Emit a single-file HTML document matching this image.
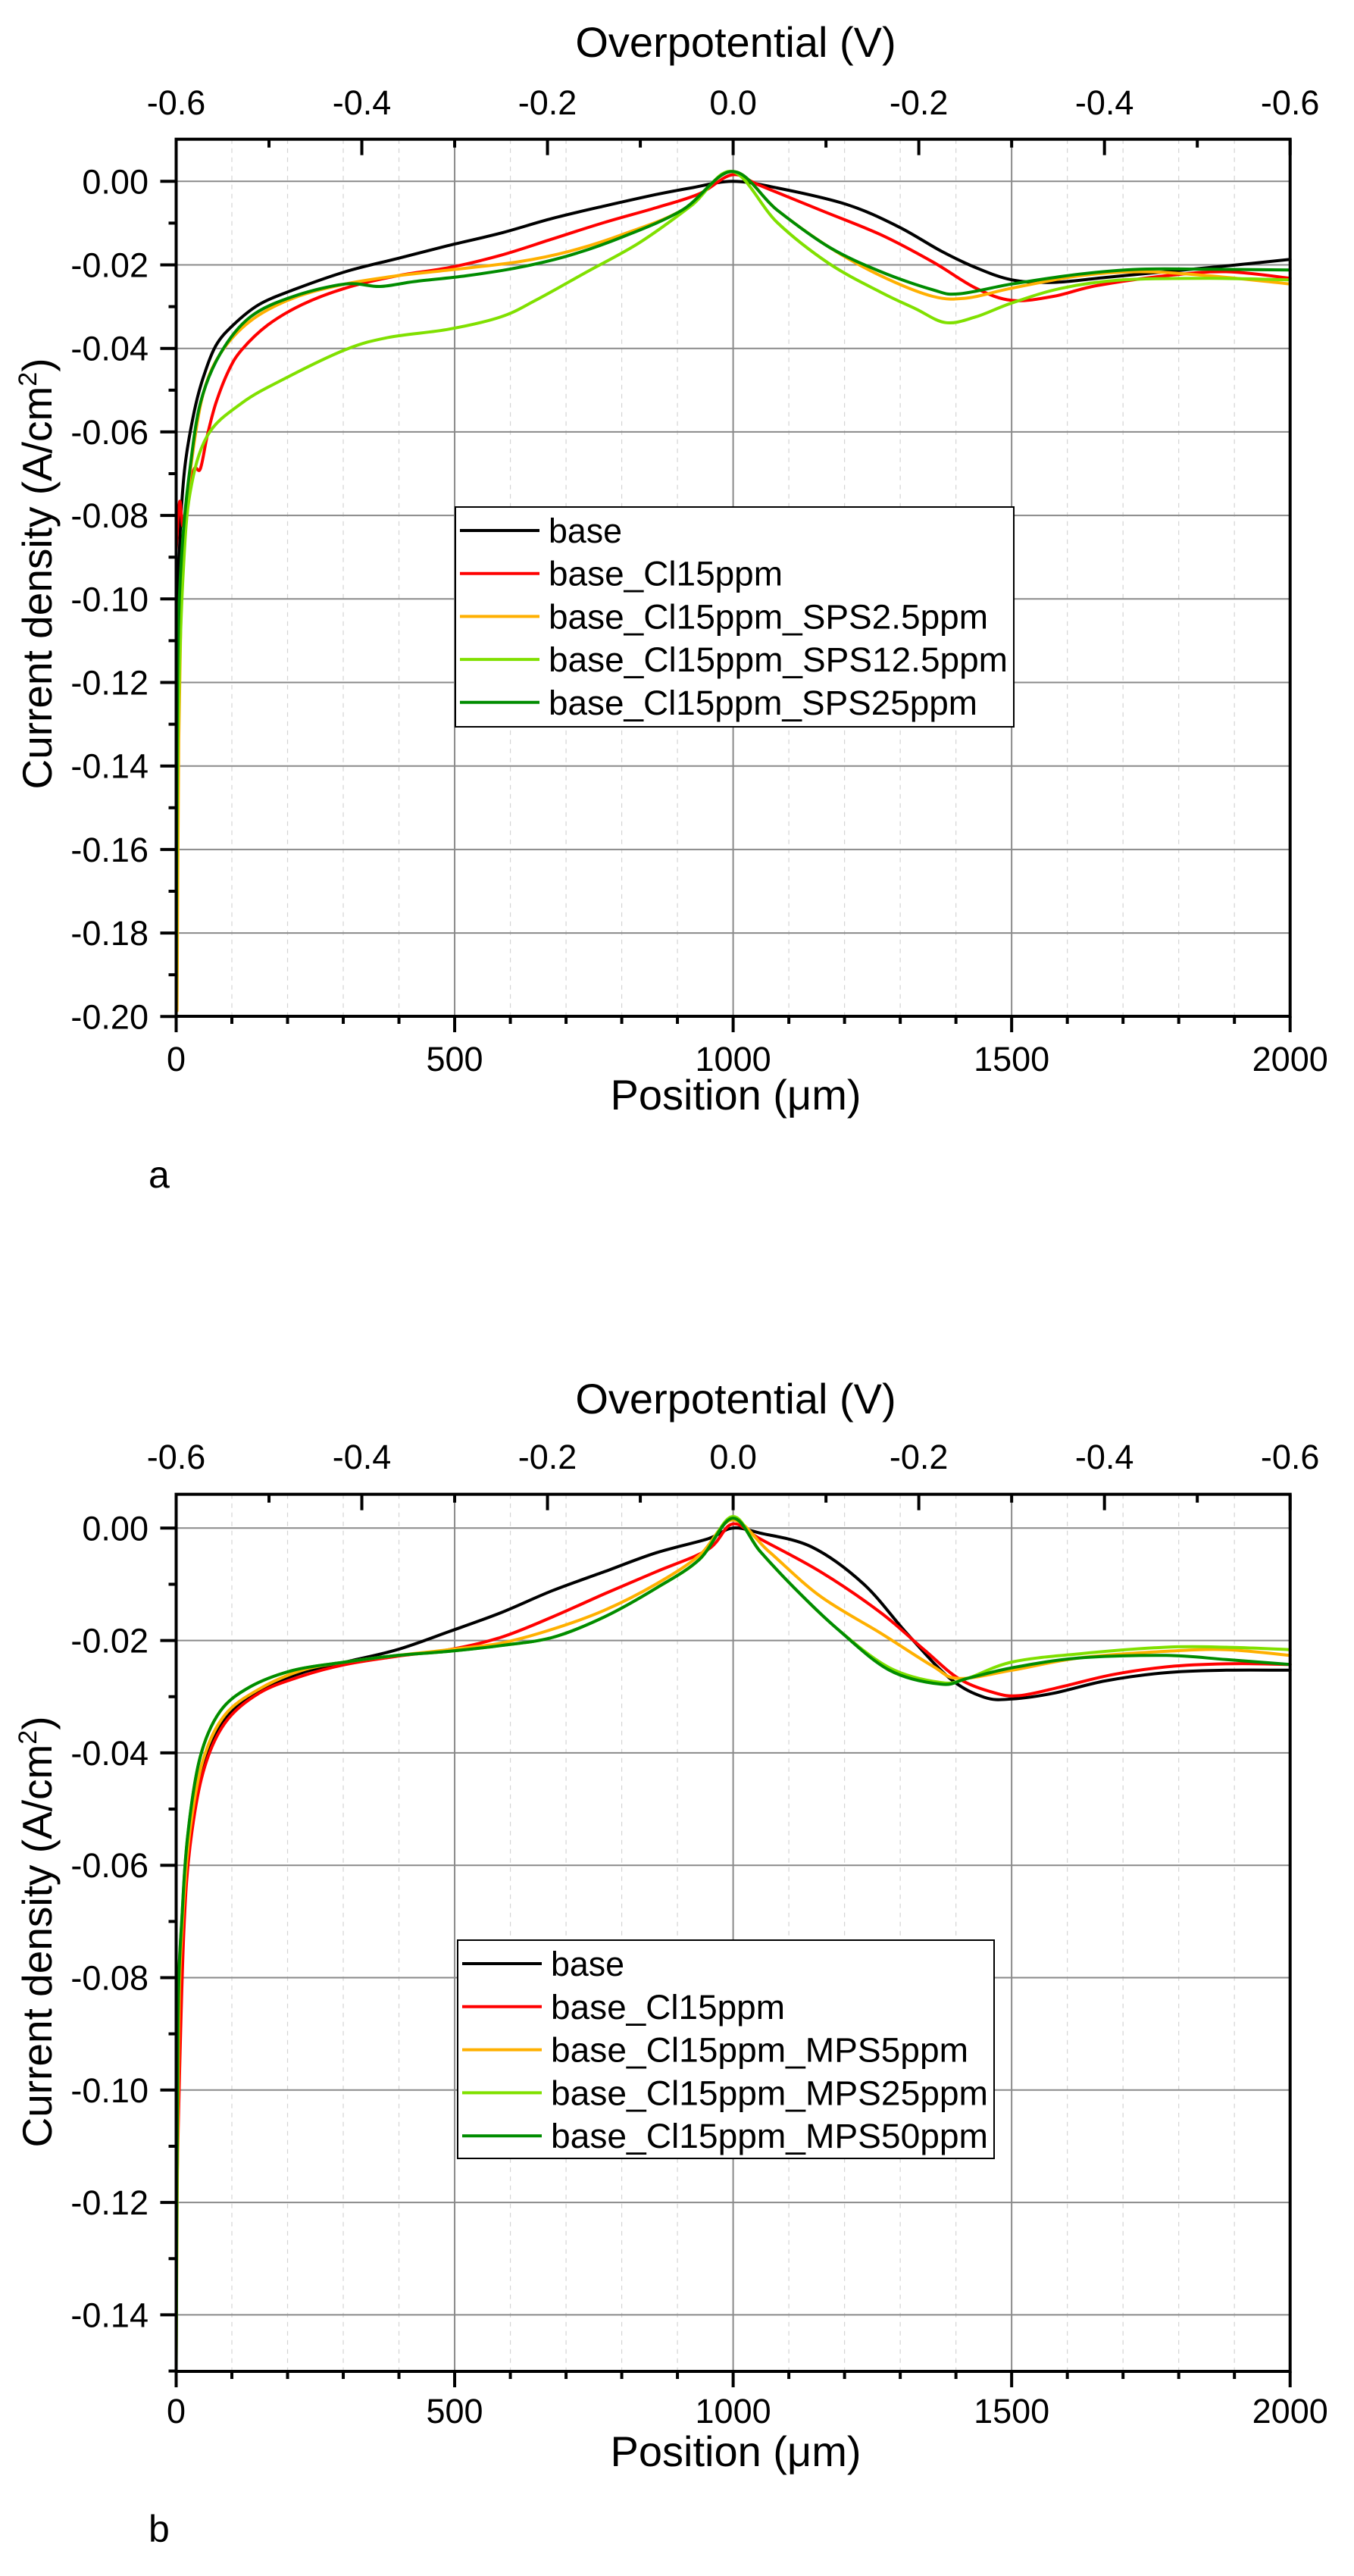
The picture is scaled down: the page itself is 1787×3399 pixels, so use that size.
<!DOCTYPE html>
<html><head><meta charset="utf-8"><style>
html,body{margin:0;padding:0;background:#fff;}
svg{display:block;font-family:"Liberation Sans",Arial,sans-serif;}
</style></head><body>
<svg id="s" width="1787" height="3399" viewBox="0 0 1787 3399" xmlns="http://www.w3.org/2000/svg">
<text x="971" y="75" font-size="56" text-anchor="middle">Overpotential (V)</text>
<text x="971" y="1865" font-size="56" text-anchor="middle">Overpotential (V)</text>
<text x="971" y="1464" font-size="56" text-anchor="middle">Position (μm)</text>
<text x="971" y="3254" font-size="56" text-anchor="middle">Position (μm)</text>
<text x="196" y="1567" font-size="50">a</text>
<text x="196" y="3354" font-size="50">b</text>
<text transform="translate(68,757) rotate(-90)" font-size="55" text-anchor="middle">Current density (A/cm<tspan font-size="34" dy="-20">2</tspan><tspan dy="20">)</tspan></text>
<text transform="translate(68,2549) rotate(-90)" font-size="55" text-anchor="middle">Current density (A/cm<tspan font-size="34" dy="-20">2</tspan><tspan dy="20">)</tspan></text>
</svg>
<script>
(function(){
var s=document.getElementById('s'),NS='http://www.w3.org/2000/svg';
function el(t,a,txt){var e=document.createElementNS(NS,t);for(var k in a)e.setAttribute(k,a[k]);if(txt!==undefined)e.textContent=txt;s.appendChild(e);return e;}
var L=232.5,R=1702.7;
function X(p){return L+p*(R-L)/2000;}
function panel(P){
 var T=P.top,B=P.bot,y0=P.y0,k=P.k; function Y(v){return y0-v*k;}
 for(var p=100;p<2000;p+=100){if(p%500==0)continue;el('line',{x1:X(p),x2:X(p),y1:T,y2:B,stroke:'#d4d4d4','stroke-width':1.2,'stroke-dasharray':'6,6'});}
 for(var p=500;p<2000;p+=500)el('line',{x1:X(p),x2:X(p),y1:T,y2:B,stroke:'#8a8a8a','stroke-width':2});
 for(var i=0;i<P.n;i++){var v=-0.02*i;var y=Y(v);if(y>B-2||y<T+2)continue;el('line',{x1:L,x2:R,y1:y,y2:y,stroke:'#8a8a8a','stroke-width':2});}
 P.series.forEach(function(sr){
  var pts=sr.pts.map(function(q){var px=(q[0]-204)/1290*2000;var v=(q[1]-P.dy0)/(P.dyb-P.dy0)*P.vb;var y=Y(v);if(y>B)y=B;return [X(px),y];});
  var d='M'+pts[0][0].toFixed(1)+' '+pts[0][1].toFixed(1);
  for(var i=0;i<pts.length-1;i++){var p0=pts[i-1]||pts[i],p1=pts[i],p2=pts[i+1],p3=pts[i+2]||p2;
   var c1x=p1[0]+(p2[0]-p0[0])/6,c1y=p1[1]+(p2[1]-p0[1])/6,c2x=p2[0]-(p3[0]-p1[0])/6,c2y=p2[1]-(p3[1]-p1[1])/6;
   if(i==0||sr.sharp&&sr.sharp.indexOf(i)>=0){}
   d+='C'+c1x.toFixed(1)+' '+c1y.toFixed(1)+' '+c2x.toFixed(1)+' '+c2y.toFixed(1)+' '+p2[0].toFixed(1)+' '+p2[1].toFixed(1);}
  el('path',{d:d,fill:'none',stroke:sr.c,'stroke-width':4,'stroke-linejoin':'round','stroke-linecap':'round'});
 });
 el('rect',{x:L,y:T,width:R-L,height:B-T,fill:'none',stroke:'#000','stroke-width':4});
 for(var p=0;p<=2000;p+=100){var maj=p%500==0;el('line',{x1:X(p),x2:X(p),y1:B,y2:B+(maj?21:10),stroke:'#000','stroke-width':4});}
 [0,500,1000,1500,2000].forEach(function(p){el('text',{x:X(p),y:P.xl,'font-size':45,'text-anchor':'middle'},String(p));});
 for(var j=0;j<=12;j++){var p=j*2000/12;var maj=j%2==0;el('line',{x1:X(p),x2:X(p),y1:T,y2:T+(maj?21:11),stroke:'#000','stroke-width':4});}
 ['-0.6','-0.4','-0.2','0.0','-0.2','-0.4','-0.6'].forEach(function(t,j){el('text',{x:X(j*2000/6),y:P.tl,'font-size':45,'text-anchor':'middle'},t);});
 for(var i=0;i<=2*P.n;i++){var v=-0.01*i;var y=Y(v);if(y>B+1||y<T-1)continue;var maj=i%2==0;el('line',{x1:L-(maj?21:10),x2:L,y1:y,y2:y,stroke:'#000','stroke-width':4});
  if(maj)el('text',{x:196,y:y+16,'font-size':45,'text-anchor':'end'},(v===0?'0.00':v.toFixed(2)));}
 var g=P.leg;el('rect',{x:g.x,y:g.y,width:g.w,height:g.h,fill:'#fff',stroke:'#000','stroke-width':2});
 g.items.forEach(function(it,i){var y=g.r0+i*g.dr;el('line',{x1:g.x+6,x2:g.x+111,y1:y,y2:y,stroke:P.series[i].c,'stroke-width':4});
  el('text',{x:g.x+123,y:y+16,'font-size':45,textLength:it[1],lengthAdjust:'spacingAndGlyphs'},it[0]);});
}
var C=['#000000','#ff0000','#ffb000','#80e000','#008c00'];
panel({top:183.7,bot:1341,y0:239.3,k:5510,n:11,dy0:220,dyb:1237,vb:-0.2,xl:1413,tl:151,
 leg:{x:601,y:669,w:737,h:290,r0:700,dr:56.7,items:[['base',97],['base_Cl15ppm',309],['base_Cl15ppm_SPS2.5ppm',580],['base_Cl15ppm_SPS12.5ppm',606],['base_Cl15ppm_SPS25ppm',566]]},
 series:[
 {c:C[0],pts:[[204,1000],[205,850],[207,700],[210,620],[215,560],[225,500],[235,460],[250,420],[270,395],[300,370],[340,352],[400,330],[460,314],[520,298],[580,283],[640,265],[700,250],[760,236],[800,228],[848,220],[900,228],[980,248],[1040,275],[1090,305],[1130,325],[1172,340],[1220,343],[1280,337],[1350,330],[1420,323],[1494,315]]},
 {c:C[1],pts:[[204,670],[208,610],[212,640],[218,600],[225,570],[232,570],[240,530],[250,490],[265,450],[280,425],[310,395],[350,370],[400,350],[460,335],[520,325],[580,310],[640,290],[700,270],[760,252],[810,235],[848,212],[880,225],[950,255],[1020,285],[1080,318],[1130,350],[1172,365],[1220,360],[1270,347],[1350,335],[1420,330],[1494,338]]},
 {c:C[2],pts:[[205,1230],[207,900],[210,720],[214,640],[222,560],[235,480],[255,430],[290,390],[340,362],[400,345],[460,335],[520,328],[600,318],[660,305],[720,285],[790,255],[848,208],[900,255],[960,300],[1020,335],[1080,360],[1120,362],[1172,350],[1250,335],[1320,330],[1400,335],[1494,345]]},
 {c:C[3],pts:[[204,1237],[205,1000],[207,850],[212,700],[220,600],[240,530],[280,490],[330,460],[400,425],[450,410],[520,400],[580,385],[620,365],[680,330],[740,295],[800,250],[848,208],[900,270],[960,320],[1020,355],[1060,375],[1095,392],[1130,385],[1172,368],[1230,350],[1300,340],[1400,338],[1494,340]]},
 {c:C[4],pts:[[204,1237],[205,900],[207,750],[212,650],[220,570],[232,490],[255,430],[290,385],[340,360],[400,345],[440,348],[480,342],[540,335],[600,325],[660,310],[720,288],[790,255],[848,208],[900,255],[960,300],[1020,330],[1080,352],[1110,357],[1172,345],[1250,333],[1320,327],[1400,327],[1494,328]]}
 ]});
panel({top:1971.7,bot:3129,y0:2016.3,k:7415,n:8,dy0:292,dyb:1318,vb:-0.15,xl:3197,tl:1938,
 leg:{x:604,y:2560,w:708,h:288,r0:2591,dr:56.8,items:[['base',97],['base_Cl15ppm',309],['base_Cl15ppm_MPS5ppm',551],['base_Cl15ppm_MPS25ppm',577],['base_Cl15ppm_MPS50ppm',577]]},
 series:[
 {c:C[0],pts:[[204,1150],[207,900],[212,750],[220,660],[235,580],[260,525],[300,490],[350,468],[400,455],[460,440],[520,418],[580,395],[640,368],[700,345],[760,322],[820,305],[848,292],[880,298],[940,315],[1000,360],[1050,420],[1100,475],[1140,498],[1172,500],[1220,493],[1280,478],[1350,468],[1420,465],[1494,465]]},
 {c:C[1],pts:[[204,1140],[208,950],[213,780],[220,680],[235,590],[260,530],[300,493],[350,472],[400,458],[460,448],[520,440],[580,425],[640,400],[700,372],[760,345],[820,318],[848,287],[880,305],[950,345],[1020,395],[1070,440],[1110,475],[1150,492],[1180,496],[1230,485],[1290,470],[1360,460],[1430,457],[1494,458]]},
 {c:C[2],pts:[[204,1300],[207,900],[212,760],[220,660],[235,575],[260,520],[300,488],[350,465],[400,455],[460,447],[520,440],[580,432],[640,415],[700,392],[760,360],[810,325],[848,282],[890,320],[950,375],[1020,420],[1080,460],[1110,475],[1172,465],[1250,450],[1350,442],[1420,440],[1494,447]]},
 {c:C[3],pts:[[204,1318],[206,900],[211,760],[218,660],[232,570],[255,515],[290,485],[340,465],[400,455],[460,447],[520,442],[580,435],[640,425],[700,400],[760,365],[810,330],[848,278],[880,320],[920,365],[970,415],[1030,462],[1090,480],[1120,475],[1172,455],[1250,445],[1350,437],[1420,437],[1494,440]]},
 {c:C[4],pts:[[204,1318],[206,900],[211,760],[218,660],[232,570],[255,515],[290,485],[340,465],[400,455],[460,447],[520,442],[580,435],[640,425],[700,400],[760,365],[810,330],[848,280],[880,320],[920,365],[970,415],[1030,465],[1090,482],[1120,475],[1172,462],[1250,450],[1350,447],[1420,452],[1494,458]]}
 ]});
})();
</script>
</body></html>
